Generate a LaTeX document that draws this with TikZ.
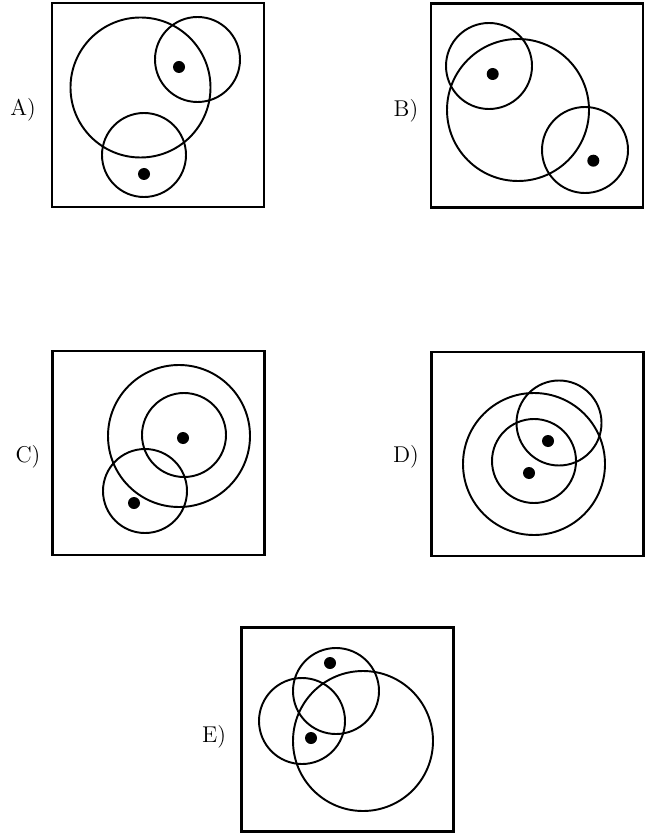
\documentclass[tikz,border=0pt]{standalone}
\begin{document}
\begin{tikzpicture}[
    x=0.02cm, y=-0.02cm,
    frame/.style={rectangle, draw=black, line width=1.6pt, inner sep=0pt, minimum width=4.24cm, minimum height=4.08cm},
    ring/.style={draw=black, line width=1.1pt},
    dot/.style={fill=black},
    tag/.style={font=\fontsize{13}{15}\selectfont, inner sep=0pt}
]
\useasboundingbox (0,0) rectangle (650,834);

% Frames
\node[frame] (boxA) at (158,105) {};
\node[frame] (boxB) at (537,105.5) {};
\node[frame] (boxC) at (158.5,453) {};
\node[frame] (boxD) at (537.5,454) {};
\node[frame] (boxE) at (347.5,729.5) {};

% Labels
\node[tag] (labA) at (23,110) {A)};
\node[tag] (labB) at (406,111) {B)};
\node[tag] (labC) at (28,457) {C)};
\node[tag] (labD) at (406,457) {D)};
\node[tag] (labE) at (214,737) {E)};

% Panel A
\draw[ring] (140.5,87.5) circle (70);
\draw[ring] (197.5,59.5) circle (42.5);
\draw[ring] (144,155) circle (42);
\fill[dot] (179,67) circle (6);
\fill[dot] (144,174) circle (6);

% Panel B
\draw[ring] (518,110) circle (71);
\draw[ring] (489,66) circle (43);
\draw[ring] (585,150) circle (43);
\fill[dot] (492.7,74) circle (6);
\fill[dot] (593.3,160.7) circle (6);

% Panel C
\draw[ring] (179,436) circle (71);
\draw[ring] (184,435) circle (42);
\draw[ring] (145,491) circle (42);
\fill[dot] (183,438) circle (6);
\fill[dot] (134,503) circle (6);

% Panel D
\draw[ring] (534,464) circle (71);
\draw[ring] (534,461) circle (42);
\draw[ring] (559,423) circle (42.5);
\fill[dot] (548,441) circle (6);
\fill[dot] (529,473) circle (6);

% Panel E
\draw[ring] (363,741) circle (70);
\draw[ring] (336,691) circle (43);
\draw[ring] (302,721) circle (43);
\fill[dot] (330,663) circle (6);
\fill[dot] (311,738) circle (6);

\end{tikzpicture}
\end{document}
